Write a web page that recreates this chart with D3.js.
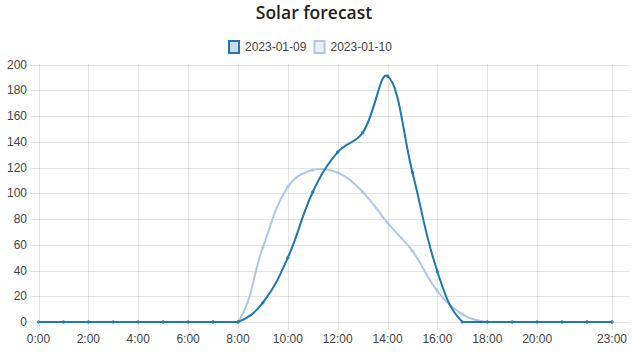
<!DOCTYPE html>
<html>
<head>
<meta charset="utf-8">
<script src="https://cdn.jsdelivr.net/npm/d3@7"></script>
<style>
  body { margin: 0; background: #fff; }
  svg { display: block; }
</style>
</head>
<body>
<div id="chart"></div>
<script>
// hourly labels and the two forecast days
var hours = ["0:00", "1:00", "2:00", "3:00", "4:00", "5:00", "6:00", "7:00", "8:00", "9:00", "10:00", "11:00",
             "12:00", "13:00", "14:00", "15:00", "16:00", "17:00", "18:00", "19:00", "20:00", "21:00", "22:00", "23:00"];
var shownHours = ["0:00", "2:00", "4:00", "6:00", "8:00", "10:00", "12:00", "14:00", "16:00", "18:00", "20:00", "23:00"];
var seriesNames = ["2023-01-09", "2023-01-10"];
var day1 = [0, 0, 0, 0, 0, 0, 0, 0, 0, 15, 50, 101, 132, 147, 191, 116, 39, 0, 0, 0, 0, 0, 0, 0];
var day2 = [0, 0, 0, 0, 0, 0, 0, 0, 0, 58, 105, 118, 116, 101, 77, 55, 24, 6, 0, 0, 0, 0, 0, 0];
var yTicks = [0, 20, 40, 60, 80, 100, 120, 140, 160, 180, 200];

var colors = ["#1f77b4", "#aec7e8"];
var fills = ["rgba(31,119,180,0.25)", "rgba(174,199,232,0.25)"];

var width = 634, height = 358;
var area = {left: 38.5, right: 630, top: 64.5, bottom: 322};

var svg = d3.select("#chart")
    .append("svg")
        .attr("width", width)
        .attr("height", height);

var xScale = d3.scalePoint()
    .domain(hours)
    .range([area.left, 612]);

var yScale = d3.scaleLinear()
    .domain([0, 200])
    .range([area.bottom, area.top]);

// grid
var grid = svg.append("g").attr("stroke", "rgba(0,0,0,0.1)").attr("stroke-width", 1);
grid.selectAll("line.h")
    .data(yTicks)
    .enter()
    .append("line")
        .attr("x1", area.left - 8)
        .attr("x2", area.right)
        .attr("y1", function(d) { return Math.round(yScale(d)) + 0.5; })
        .attr("y2", function(d) { return Math.round(yScale(d)) + 0.5; });
grid.selectAll("line.v")
    .data(shownHours)
    .enter()
    .append("line")
        .attr("x1", function(d) { return Math.round(xScale(d)) + 0.5; })
        .attr("x2", function(d) { return Math.round(xScale(d)) + 0.5; })
        .attr("y1", area.top)
        .attr("y2", area.bottom + 8);

// tick labels
svg.append("g")
    .selectAll("text")
    .data(yTicks)
    .enter()
    .append("text")
        .attr("x", 27)
        .attr("y", function(d) { return yScale(d); })
        .attr("dy", "0.35em")
        .attr("text-anchor", "end")
        .attr("font-family", "Liberation Sans, Arial, sans-serif")
        .attr("font-size", "12px")
        .attr("fill", "#444")
        .text(function(d) { return d; });

svg.append("g")
    .selectAll("text")
    .data(shownHours)
    .enter()
    .append("text")
        .attr("x", function(d) { return xScale(d); })
        .attr("y", 343)
        .attr("text-anchor", "middle")
        .attr("font-family", "Liberation Sans, Arial, sans-serif")
        .attr("font-size", "12px")
        .attr("fill", "#444")
        .text(function(d) { return d; });

// spline like Chart.js (tension 0.4, control points capped to the area)
function splinePath(values) {
  var pts = values.map(function(v, i) { return {x: xScale(hours[i]), y: yScale(v)}; });
  var t = 0.4;
  var cap = function(v, lo, hi) { return Math.max(Math.min(v, hi), lo); };
  pts.forEach(function(p, i) {
    var prev = pts[i - 1] || p, next = pts[i + 1] || p;
    var d01 = Math.hypot(p.x - prev.x, p.y - prev.y);
    var d12 = Math.hypot(next.x - p.x, next.y - p.y);
    var s01 = d01 / (d01 + d12), s12 = d12 / (d01 + d12);
    if (isNaN(s01)) s01 = 0;
    if (isNaN(s12)) s12 = 0;
    var fa = t * s01, fb = t * s12;
    p.cpx0 = cap(p.x - fa * (next.x - prev.x), area.left, area.right);
    p.cpy0 = cap(p.y - fa * (next.y - prev.y), area.top, area.bottom);
    p.cpx1 = cap(p.x + fb * (next.x - prev.x), area.left, area.right);
    p.cpy1 = cap(p.y + fb * (next.y - prev.y), area.top, area.bottom);
  });
  var path = d3.path();
  path.moveTo(pts[0].x, pts[0].y);
  for (var i = 1; i < pts.length; i++) {
    var a = pts[i - 1], b = pts[i];
    path.bezierCurveTo(a.cpx1, a.cpy1, b.cpx0, b.cpy0, b.x, b.y);
  }
  return path.toString();
}

var allSeries = [day1, day2];
// second day drawn first so the first day sits on top
[1, 0].forEach(function(k) {
  var g = svg.append("g");
  g.append("path")
      .attr("d", splinePath(allSeries[k]))
      .attr("fill", "none")
      .attr("stroke", colors[k])
      .attr("stroke-width", 2);
  g.selectAll("circle")
      .data(allSeries[k])
      .enter()
      .append("circle")
          .attr("cx", function(d, i) { return xScale(hours[i]); })
          .attr("cy", function(d) { return yScale(d); })
          .attr("r", 1.3)
          .attr("fill", fills[k])
          .attr("stroke", colors[k])
          .attr("stroke-width", 0.8);
});

// title
svg.append("text")
    .attr("x", 314)
    .attr("y", 19)
    .attr("text-anchor", "middle")
    .attr("font-family", "Open Sans, sans-serif")
    .attr("font-weight", "600")
    .attr("font-size", "17.5px")
    .attr("fill", "#222")
    .text("Solar forecast");

// legend
var legendX = [228, 313.5];
var legend = svg.append("g");
seriesNames.forEach(function(name, k) {
  legend.append("rect")
      .attr("x", legendX[k] + 1)
      .attr("y", 41)
      .attr("width", 10)
      .attr("height", 12)
      .attr("fill", fills[k])
      .attr("stroke", colors[k])
      .attr("stroke-width", 2);
  legend.append("text")
      .attr("x", legendX[k] + 17)
      .attr("y", 47)
      .attr("dy", "0.35em")
      .attr("font-family", "Liberation Sans, Arial, sans-serif")
      .attr("font-size", "12px")
      .attr("fill", "#444")
      .text(name);
});
</script>
</body>
</html>
